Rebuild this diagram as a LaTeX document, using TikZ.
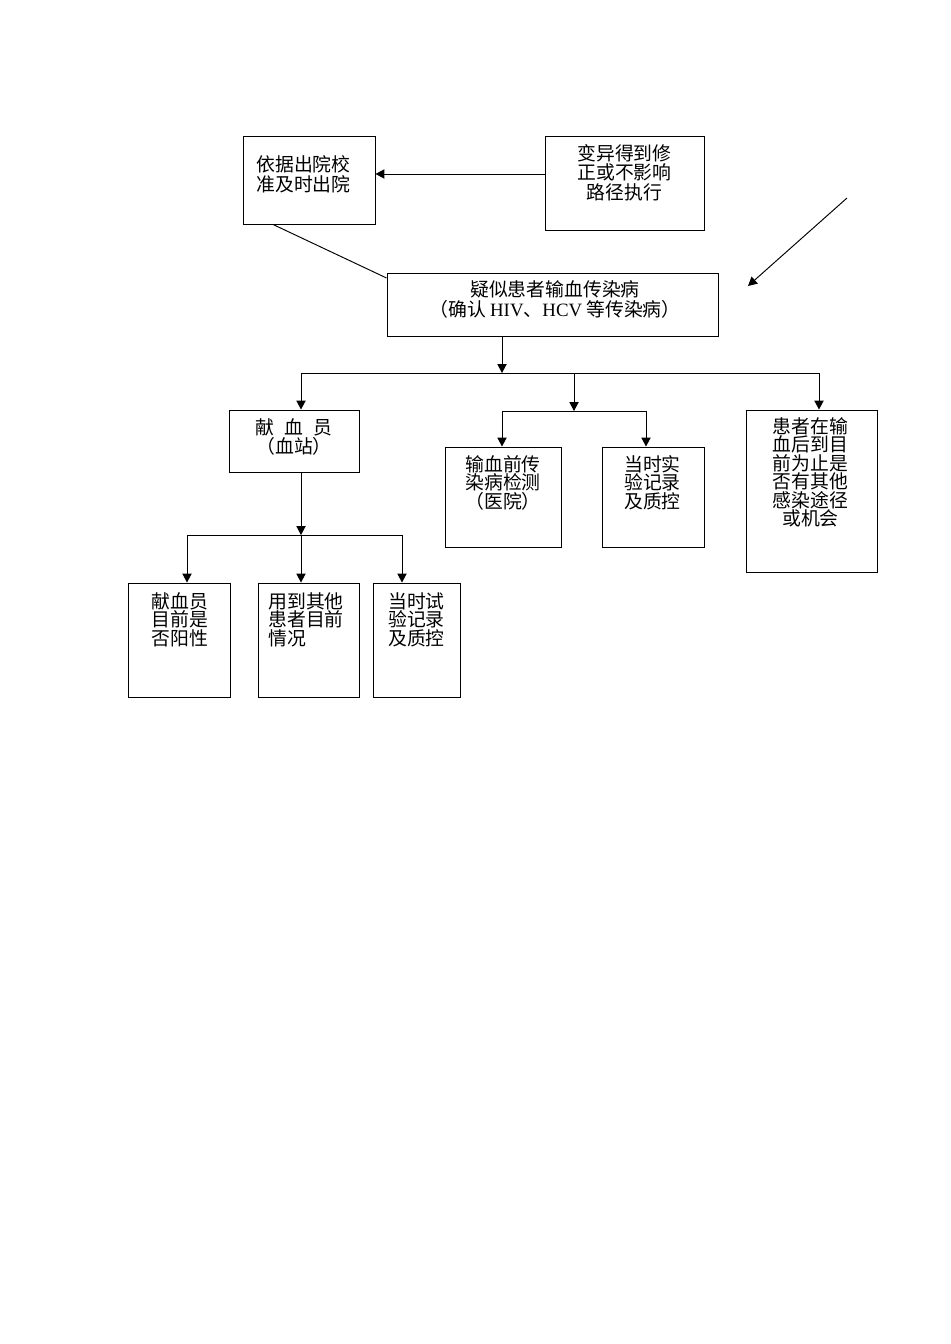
\documentclass[tikz,border=0pt]{standalone}
\usepackage{fontspec}
\setmainfont{Liberation Serif}
\newfontfamily\cjk{Noto Sans CJK SC}
\usetikzlibrary{arrows.meta,fit}
\begin{document}
\begin{tikzpicture}[x=0.6265pt,y=-0.6265pt,line width=0.6pt,
  box/.style={draw,line width=0.6pt,inner sep=0pt,rectangle},
  lbl/.style={inner sep=0pt,font=\cjk\fontsize{11.8pt}{12pt}\selectfont},
  arr/.style={-{Triangle[length=5.6pt,width=5.8pt]}}]
\useasboundingbox (0,0) rectangle (950,1344);
\fill[white] (0,0) rectangle (950,1344);
% boxes
\node[box,fit={(243,136)(375,224)}] (A) {};
\node[box,fit={(545,136)(704,230)}] (B) {};
\node[box,fit={(387,273)(718,336)}] (C) {};
\node[box,fit={(229,410)(359,472)}] (D) {};
\node[box,fit={(445,447)(561,547)}] (E) {};
\node[box,fit={(602,447)(704,547)}] (F) {};
\node[box,fit={(746,410)(877,572)}] (G) {};
\node[box,fit={(128,583)(230,697)}] (H) {};
\node[box,fit={(258,583)(359,697)}] (I) {};
\node[box,fit={(373,583)(460,697)}] (J) {};
% texts
\node[lbl,anchor=north west,align=left,font=\cjk\fontsize{11.8pt}{12.5pt}\selectfont] (tA) at (256,155) {依据出院校\\准及时出院};
\node[lbl,anchor=north,align=center,font=\cjk\fontsize{11.8pt}{12.2pt}\selectfont] (tB) at (624.5,144) {变异得到修\\正或不影响\\路径执行};
\node[lbl,anchor=north,align=center,font=\cjk\fontsize{11.8pt}{12.5pt}\selectfont] (tC) at (555,280) {疑似患者输血传染病\\（确认 {\rmfamily HIV}、{\rmfamily HCV} 等传染病）};
\node[lbl,anchor=north,align=center] (tD) at (294,418) {献\hspace{0.55em}血\hspace{0.55em}员\\（血站）};
\node[lbl,anchor=north,align=center,font=\cjk\fontsize{11.8pt}{11.6pt}\selectfont] (tE) at (503,455) {输血前传\\染病检测\\（医院）};
\node[lbl,anchor=north,align=center,font=\cjk\fontsize{11.8pt}{11.6pt}\selectfont] (tF) at (652.5,455) {当时实\\验记录\\及质控};
\node[lbl,anchor=north,align=center,font=\cjk\fontsize{11.8pt}{11.6pt}\selectfont] (tG) at (810.5,417) {患者在输\\血后到目\\前为止是\\否有其他\\感染途径\\或机会};
\node[lbl,anchor=north,align=center,font=\cjk\fontsize{11.8pt}{11.6pt}\selectfont] (tH) at (180,592) {献血员\\目前是\\否阳性};
\node[lbl,anchor=north west,align=left,font=\cjk\fontsize{11.8pt}{11.6pt}\selectfont] (tI) at (268,592) {用到其他\\患者目前\\情况};
\node[lbl,anchor=north,align=center,font=\cjk\fontsize{11.8pt}{11.6pt}\selectfont] (tJ) at (416.5,592) {当时试\\验记录\\及质控};
% coordinates
\coordinate (ab) at (545,174);
\coordinate (ac1) at (273,224);
\coordinate (ac2) at (387,278);
\coordinate (fa1) at (847,198);
\coordinate (fa2) at (748,286);
\coordinate (j1) at (502,373);
\coordinate (b1) at (301,373);
\coordinate (b2) at (574,373);
\coordinate (b3) at (819,373);
\coordinate (k) at (574,411);
\coordinate (e1) at (502,411);
\coordinate (f1) at (646,411);
\coordinate (m) at (301,535);
\coordinate (h1) at (187,535);
\coordinate (n1) at (402,535);
% connectors
\draw[arr] (ab) -- (ab -| A.east);
\draw (ac1 |- A.south) -- (ac2 -| C.west);
\draw[arr] (fa1) -- (fa2);
\draw[arr] (j1 |- C.south) -- (j1);
\draw (b1) -- (b3);
\draw[arr] (b1) -- (b1 |- D.north);
\draw[arr] (b2) -- (k);
\draw[arr] (b3) -- (b3 |- G.north);
\draw (e1) -- (f1);
\draw[arr] (e1) -- (e1 |- E.north);
\draw[arr] (f1) -- (f1 |- F.north);
\draw[arr] (m |- D.south) -- (m);
\draw (h1) -- (n1);
\draw[arr] (h1) -- (h1 |- H.north);
\draw[arr] (m) -- (m |- I.north);
\draw[arr] (n1) -- (n1 |- J.north);
\end{tikzpicture}
\end{document}
